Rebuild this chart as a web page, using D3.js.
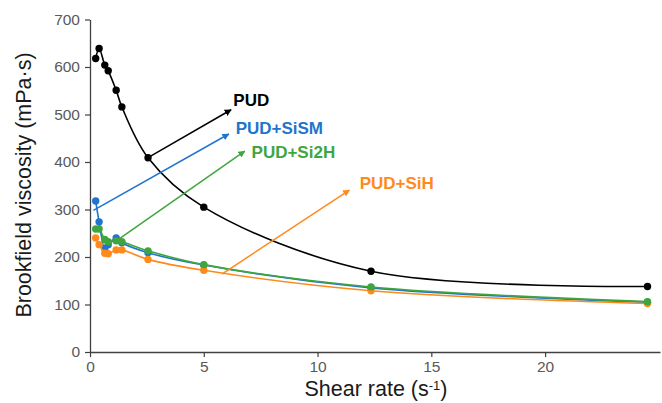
<!DOCTYPE html>
<html>
<head>
<meta charset="utf-8">
<script src="https://cdn.jsdelivr.net/npm/d3@7"></script>
<style>
  html, body { margin: 0; padding: 0; background: #fff; }
  svg { display: block; font-family: Arial, "Liberation Sans", sans-serif; }
</style>
</head>
<body>
<svg id="chart" width="662" height="403"></svg>
<script>
// Shear rate (s^-1) at each spindle speed
const shearRate = [0.25, 0.4, 0.65, 0.8, 1.15, 1.4, 2.55, 5.0, 12.35, 24.5];

// Brookfield viscosity (mPa·s) per formulation
const pud     = [618, 639, 604, 592, 551, 516, 409, 305, 170, 138];
const pudSiSM = [318, 274, 218, 226, 240, 230, 209, 183, 135, 105];
const pudSi2H = [259, 259, 237, 232, 234, 232, 213, 184, 137, 106];
const pudSiH  = [240, 226, 208, 207, 215, 215, 195, 172, 129, 102];

const xTicks = [0, 5, 10, 15, 20];
const yTicks = [0, 100, 200, 300, 400, 500, 600, 700];

// Arrow labels: start point, arrow tip and label anchor in data units
const labels = [
  { name: "PUD",      color: "#000000", from: [2.55, 409], to: [6.2, 510], text: [6.3, 528] },
  { name: "PUD+SiSM", color: "#1f74cc", from: [0.15, 298], to: [6.1, 459], text: [6.4, 469] },
  { name: "PUD+Si2H", color: "#3fa63f", from: [1.25, 237], to: [6.8, 423], text: [7.1, 418] },
  { name: "PUD+SiH",  color: "#ff8a1c", from: [5.8, 164], to: [11.4, 341], text: [11.85, 352] }
];

const series = [
  { values: pudSiSM, color: "#1f74cc" },
  { values: pudSiH,  color: "#ff8a1c" },
  { values: pudSi2H, color: "#3fa63f" },
  { values: pud,     color: "#000000" }
];

const svg = d3.select("#chart");
const plotLeft = 90, plotRight = 660, plotTop = 19.5, plotBottom = 352;

const x = d3.scaleLinear().domain([0, 25.05]).range([plotLeft, plotRight]);
const y = d3.scaleLinear().domain([0, 700]).range([plotBottom, plotTop]);

// Axes
const axisColor = "#404040";
const gx = svg.append("g").attr("transform", `translate(0,${plotBottom})`)
  .call(d3.axisBottom(x).tickValues(xTicks).tickSize(5).tickPadding(3).tickSizeOuter(0));
const gy = svg.append("g").attr("transform", `translate(${plotLeft},0)`)
  .call(d3.axisLeft(y).tickValues(yTicks).tickSize(5).tickPadding(5).tickSizeOuter(0));
[gx, gy].forEach(g => {
  g.select(".domain").attr("stroke", axisColor).attr("stroke-width", 1.3);
  g.selectAll(".tick line").attr("stroke", axisColor).attr("stroke-width", 1.2);
  g.selectAll(".tick text").attr("fill", "#595959").style("font-size", "15.5px")
    .style("font-family", "Arial, 'Liberation Sans', sans-serif");
});
gx.selectAll(".tick text").attr("dy", "0.8em");

// Axis titles
svg.append("text")
  .attr("x", 376).attr("y", 396)
  .attr("text-anchor", "middle").attr("fill", "#1a1a1a").style("font-size", "21.5px")
  .call(t => {
    t.append("tspan").text("Shear rate (s");
    t.append("tspan").attr("dy", -6).style("font-size", "13px").text("-1");
    t.append("tspan").attr("dy", 6).text(")");
  });

svg.append("text")
  .attr("transform", `translate(31,185) rotate(-90)`)
  .attr("text-anchor", "middle").attr("fill", "#1a1a1a").style("font-size", "21.5px")
  .text("Brookfield viscosity (mPa·s)");

// Curves and markers
const line = d3.line()
  .x(d => x(d[0])).y(d => y(d[1]))
  .curve(d3.curveCatmullRom.alpha(0.5));

series.forEach(s => {
  const pts = shearRate.map((r, i) => [r, s.values[i]]);
  const g = svg.append("g");
  g.append("path").datum(pts).attr("d", line)
    .attr("fill", "none").attr("stroke", s.color).attr("stroke-width", 1.6);
  g.selectAll("circle").data(pts).join("circle")
    .attr("cx", d => x(d[0])).attr("cy", d => y(d[1])).attr("r", 3.7)
    .attr("fill", s.color);
});

// Arrow markers
const defs = svg.append("defs");
labels.forEach((l, i) => {
  defs.append("marker").attr("id", "arrow" + i)
    .attr("viewBox", "0 0 10 10").attr("refX", 9).attr("refY", 5)
    .attr("markerWidth", 7).attr("markerHeight", 7).attr("orient", "auto")
    .attr("markerUnits", "userSpaceOnUse")
    .append("path").attr("d", "M0,0L10,5L0,10z").attr("fill", l.color);
});

labels.forEach((l, i) => {
  svg.append("line")
    .attr("x1", x(l.from[0])).attr("y1", y(l.from[1]))
    .attr("x2", x(l.to[0])).attr("y2", y(l.to[1]))
    .attr("stroke", l.color).attr("stroke-width", 1.5)
    .attr("marker-end", `url(#arrow${i})`);
  svg.append("text")
    .attr("x", x(l.text[0])).attr("y", y(l.text[1]))
    .attr("dominant-baseline", "middle")
    .attr("fill", l.color).style("font-size", "17px").style("font-weight", "bold")
    .text(l.name);
});
</script>
</body>
</html>
